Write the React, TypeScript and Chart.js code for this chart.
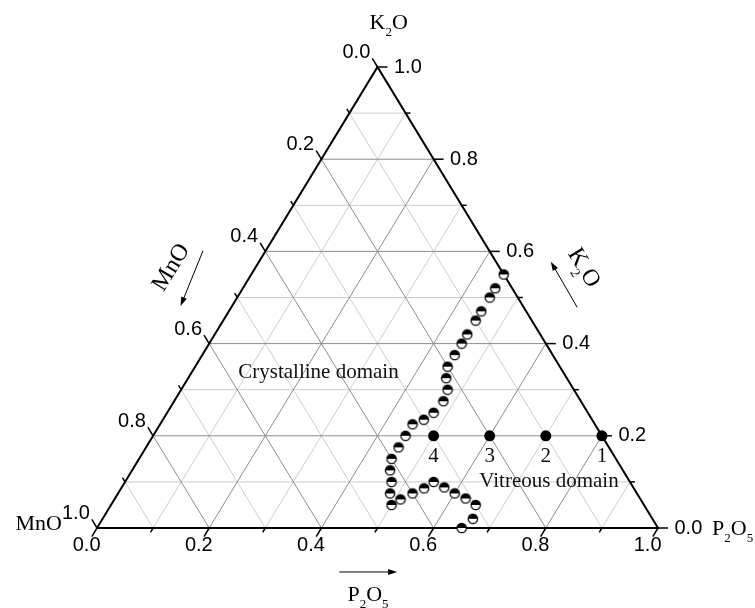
import React, { useEffect, useRef } from 'react';
import { Chart, registerables } from 'chart.js';

Chart.register(...registerables);

// ---- data ----
const TICKS = [0, 0.1, 0.2, 0.3, 0.4, 0.5, 0.6, 0.7, 0.8, 0.9, 1.0];
const TICK_LABELS = ['0.0', '0.2', '0.4', '0.6', '0.8', '1.0'];

// glass-forming boundary (half-filled circles): P2O5 and K2O fractions (MnO = rest)
const boundaryP2O5 = [0.45, 0.45, 0.45, 0.45, 0.45, 0.45, 0.45, 0.45, 0.45, 0.46, 0.475, 0.48, 0.475, 0.465, 0.45, 0.45, 0.45, 0.45, 0.46, 0.475, 0.485, 0.5, 0.51, 0.525, 0.54, 0.55, 0.575, 0.6, 0.625, 0.65, 0.66, 0.65];
const boundaryK2O = [0.55, 0.52, 0.5, 0.47, 0.45, 0.42, 0.4, 0.375, 0.35, 0.325, 0.3, 0.275, 0.25, 0.235, 0.225, 0.2, 0.175, 0.15, 0.125, 0.1, 0.075, 0.05, 0.062, 0.075, 0.086, 0.1, 0.088, 0.075, 0.064, 0.05, 0.02, 0.0];

// studied glasses (filled circles)
const sampleLabels = ['1', '2', '3', '4'];
const sampleP2O5 = [0.8, 0.7, 0.6, 0.5];
const sampleK2O = [0.2, 0.2, 0.2, 0.2];

const toXY = (p: number, k: number) => ({ x: p + k / 2, y: k });

const SANS = '"Liberation Sans", Arial, sans-serif';
const SERIF = '"Liberation Serif", "Times New Roman", serif';

type Part = { t: string; sub?: boolean };

function drawRich(ctx: CanvasRenderingContext2D, parts: Part[], x: number, y: number, align: 'left' | 'center' | 'right', size: number) {
  const subSize = Math.round(size * 0.6);
  let total = 0;
  const widths = parts.map((p) => {
    ctx.font = `${p.sub ? subSize : size}px ${SERIF}`;
    const w = ctx.measureText(p.t).width;
    total += w;
    return w;
  });
  let cx = align === 'left' ? x : align === 'center' ? x - total / 2 : x - total;
  ctx.textAlign = 'left';
  ctx.textBaseline = 'alphabetic';
  parts.forEach((p, i) => {
    ctx.font = `${p.sub ? subSize : size}px ${SERIF}`;
    ctx.fillText(p.t, cx, p.sub ? y + size * 0.32 : y);
    cx += widths[i];
  });
}

function drawArrow(ctx: CanvasRenderingContext2D, x1: number, y1: number, x2: number, y2: number) {
  const a = Math.atan2(y2 - y1, x2 - x1);
  const L = 9, W = 3;
  ctx.save();
  ctx.strokeStyle = '#000';
  ctx.fillStyle = '#000';
  ctx.lineWidth = 1;
  ctx.beginPath();
  ctx.moveTo(x1, y1);
  ctx.lineTo(x2 - Math.cos(a) * L * 0.8, y2 - Math.sin(a) * L * 0.8);
  ctx.stroke();
  ctx.beginPath();
  ctx.moveTo(x2, y2);
  ctx.lineTo(x2 - Math.cos(a) * L + Math.sin(a) * W, y2 - Math.sin(a) * L - Math.cos(a) * W);
  ctx.lineTo(x2 - Math.cos(a) * L - Math.sin(a) * W, y2 - Math.sin(a) * L + Math.cos(a) * W);
  ctx.closePath();
  ctx.fill();
  ctx.restore();
}

const ternaryPlugin = {
  id: 'ternaryDecor',
  afterDatasetsDraw(chart: any) {
    const ctx: CanvasRenderingContext2D = chart.ctx;
    const xs = chart.scales.x;
    const ys = chart.scales.y;
    const px = (x: number, y: number): [number, number] => [xs.getPixelForValue(x), ys.getPixelForValue(y)];
    const tp = (p: number, k: number) => px(p + k / 2, k);
    const [ax, ay] = tp(0, 0);
    const [bx, by] = tp(1, 0);
    const [cx, cy] = tp(0, 1);
    const norm = (dx: number, dy: number): [number, number] => {
      const l = Math.hypot(dx, dy);
      return [dx / l, dy / l];
    };
    const dB = norm(ax - cx, ay - cy); // bottom ticks: down-left
    const dL = norm(cx - bx, cy - by); // left ticks: up-left
    const dR: [number, number] = [1, 0];

    ctx.save();
    ctx.strokeStyle = '#000';
    ctx.fillStyle = '#000';
    ctx.lineWidth = 1.5;

    const tick = (bxp: number, byp: number, d: [number, number], len: number) => {
      ctx.beginPath();
      ctx.moveTo(bxp, byp);
      ctx.lineTo(bxp + d[0] * len, byp + d[1] * len);
      ctx.stroke();
    };

    TICKS.forEach((v, i) => {
      const major = i % 2 === 0;
      const len = major ? 10 : 5;
      // bottom axis (P2O5)
      const [b1x, b1y] = tp(v, 0);
      tick(b1x, b1y, dB, len);
      // left axis (MnO)
      const [l1x, l1y] = tp(0, 1 - v);
      tick(l1x, l1y, dL, len);
      // right axis (K2O)
      const [r1x, r1y] = tp(1 - v, v);
      tick(r1x, r1y, dR, len);
      if (major) {
        const label = TICK_LABELS[i / 2];
        ctx.font = `20px ${SANS}`;
        ctx.textAlign = 'center';
        ctx.textBaseline = 'middle';
        ctx.fillText(label, b1x + dB[0] * 20, b1y + dB[1] * 20);
        ctx.textAlign = 'right';
        ctx.fillText(label, l1x + dL[0] * 10 - 2, l1y + dL[1] * 10 - 6);
        ctx.textAlign = 'left';
        ctx.fillText(label, r1x + 16.5, r1y);
      }
    });

    // vertex labels
    let p = px(0.52, 1.0824);
    drawRich(ctx, [{ t: 'K' }, { t: '2', sub: true }, { t: 'O' }], p[0], p[1], 'center', 22);
    p = px(-0.0624, -0.0043);
    drawRich(ctx, [{ t: 'MnO' }], p[0], p[1], 'right', 22);
    p = px(1.0963, -0.0152);
    drawRich(ctx, [{ t: 'P' }, { t: '2', sub: true }, { t: 'O' }, { t: '5', sub: true }], p[0], p[1], 'left', 22);
    p = px(0.483, -0.158);
    drawRich(ctx, [{ t: 'P' }, { t: '2', sub: true }, { t: 'O' }, { t: '5', sub: true }], p[0], p[1], 'center', 22);

    // axis titles along edges with arrows
    const angL = Math.atan2(cy - ay, cx - ax);
    const angR = Math.atan2(by - cy, bx - cx);
    p = px(0.13, 0.567);
    ctx.save();
    ctx.translate(p[0], p[1]);
    ctx.rotate(angL);
    drawRich(ctx, [{ t: 'MnO' }], 0, 8, 'center', 24);
    ctx.restore();
    p = px(0.87, 0.566);
    ctx.save();
    ctx.translate(p[0], p[1]);
    ctx.rotate(angR);
    drawRich(ctx, [{ t: 'K' }, { t: '2', sub: true }, { t: 'O' }], 0, 8, 'center', 24);
    ctx.restore();

    let a1 = px(0.189, 0.6015), a2 = px(0.149, 0.4816);
    drawArrow(ctx, a1[0], a1[1], a2[0], a2[1]);
    a1 = px(0.856, 0.4787); a2 = px(0.809, 0.5777);
    drawArrow(ctx, a1[0], a1[1], a2[0], a2[1]);
    a1 = px(0.432, -0.0954); a2 = px(0.535, -0.0954);
    drawArrow(ctx, a1[0], a1[1], a2[0], a2[1]);

    // domain labels
    ctx.fillStyle = '#111';
    p = px(0.3948, 0.326);
    drawRich(ctx, [{ t: 'Crystalline domain' }], p[0], p[1], 'center', 21);
    p = px(0.8057, 0.0883);
    drawRich(ctx, [{ t: 'Vitreous domain' }], p[0], p[1], 'center', 21);

    // sample numbers
    sampleLabels.forEach((lab, i) => {
      const q = tp(sampleP2O5[i], sampleK2O[i]);
      drawRich(ctx, [{ t: lab }], q[0], q[1] + 26, 'center', 21);
    });
    ctx.restore();
  },
};

export default function App() {
  const ref = useRef<HTMLCanvasElement>(null);
  useEffect(() => {
    const canvas = ref.current;
    if (!canvas) return;

    const half = document.createElement('canvas');
    half.width = 12;
    half.height = 12;
    const h = half.getContext('2d')!;
    const r = 4.7;
    h.beginPath(); h.arc(6, 6, r, 0, Math.PI * 2); h.fillStyle = '#fff'; h.fill();
    h.beginPath(); h.arc(6, 6, r, Math.PI, Math.PI * 2); h.closePath(); h.fillStyle = '#000'; h.fill();
    h.beginPath(); h.arc(6, 6, r, 0, Math.PI * 2); h.lineWidth = 1.2; h.strokeStyle = '#000'; h.stroke();

    const datasets: any[] = [];
    TICKS.slice(1, -1).forEach((v, idx) => {
      const i = idx + 1;
      const major = i % 2 === 0;
      const color = major ? '#8c8c8c' : '#cdcdcd';
      const lines = [
        [toXY(0, v), toXY(1 - v, v)],
        [toXY(v, 0), toXY(v, 1 - v)],
        [toXY(1 - v, 0), toXY(0, 1 - v)],
      ];
      lines.forEach((d) =>
        datasets.push({ data: d, showLine: true, borderColor: color, borderWidth: 1, pointRadius: 0, order: major ? 3 : 4, clip: false })
      );
    });
    datasets.push({
      data: [toXY(0, 0), toXY(1, 0), toXY(0, 1), toXY(0, 0)],
      showLine: true, borderColor: '#000', borderWidth: 2, pointRadius: 0, order: 2, clip: false,
      borderJoinStyle: 'miter',
    });
    datasets.push({
      data: boundaryP2O5.map((p, i) => toXY(p, boundaryK2O[i])),
      pointStyle: half, pointRadius: 6, order: 1, clip: false,
    });
    datasets.push({
      data: sampleP2O5.map((p, i) => toXY(p, sampleK2O[i])),
      pointStyle: 'circle', pointRadius: 5.5, backgroundColor: '#000', borderColor: '#000', borderWidth: 0, order: 0, clip: false,
    });

    const chart = new Chart(canvas, {
      type: 'scatter',
      data: { datasets },
      options: {
        responsive: false,
        animation: false,
        events: [],
        layout: { padding: { left: 97, right: 97, top: 67, bottom: 80 } },
        scales: {
          x: { type: 'linear', min: 0, max: 1, display: false },
          y: { type: 'linear', min: 0, max: 1, display: false },
        },
        plugins: { legend: { display: false }, tooltip: { enabled: false } },
      },
      plugins: [ternaryPlugin],
    } as any);
    return () => chart.destroy();
  }, []);

  return (
    <div style={{ position: 'absolute', left: 0, top: 0, width: 755, height: 608, background: '#fff' }}>
      <canvas ref={ref} width={755} height={608} style={{ display: 'block' }} />
    </div>
  );
}
